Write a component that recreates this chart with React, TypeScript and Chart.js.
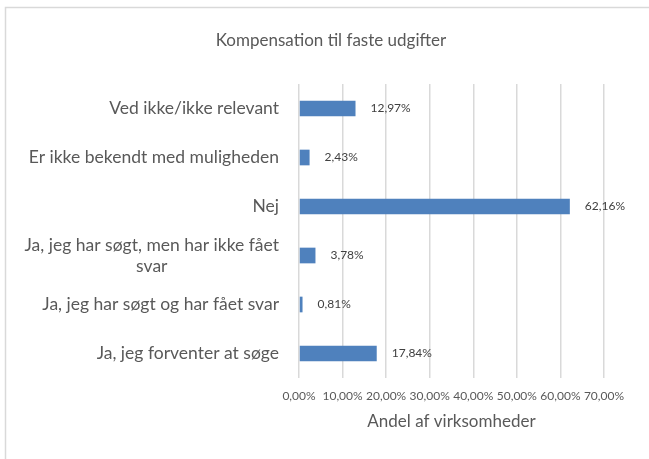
import React, { useEffect, useRef } from "react";
import { Chart, registerables } from "chart.js";

Chart.register(...registerables);

const categories: (string | string[])[] = [
  "Ved ikke/ikke relevant",
  "Er ikke bekendt med muligheden",
  "Nej",
  ["Ja, jeg har søgt, men har ikke fået", "svar"],
  "Ja, jeg har søgt og har fået svar",
  "Ja, jeg forventer at søge",
];
const values: number[] = [12.97, 2.43, 62.16, 3.78, 0.81, 17.84];
const xTicks: number[] = [0, 10, 20, 30, 40, 50, 60, 70];
const titleText = "Kompensation til faste udgifter";
const axisTitle = "Andel af virksomheder";

const FONT = "Lato, 'Open Sans', sans-serif";
const TEXT = "#595959";
const fmt = (v: number) => v.toFixed(2).replace(".", ",") + "%";

const framePlugin = {
  id: "frame",
  beforeDraw(chart: any) {
    const ctx = chart.ctx;
    ctx.save();
    ctx.fillStyle = "#ffffff";
    ctx.fillRect(0, 0, chart.width, chart.height);
    ctx.strokeStyle = "#d9d9d9";
    ctx.lineWidth = 1.5;
    ctx.beginPath();
    ctx.moveTo(5.5, chart.height);
    ctx.lineTo(5.5, 7.5);
    ctx.lineTo(chart.width, 7.5);
    ctx.stroke();
    ctx.restore();
  },
};

const labelsPlugin = {
  id: "catLabels",
  afterDraw(chart: any) {
    const ctx = chart.ctx;
    const scale = chart.scales.y;
    const labels = scale.getLabels();
    ctx.save();
    ctx.font = `17.5px ${FONT}`;
    ctx.fillStyle = TEXT;
    ctx.textBaseline = "middle";
    const right = chart.chartArea.left - 20;
    const lh = 21;
    labels.forEach((lab: any, i: number) => {
      const y = scale.getPixelForTick(i);
      const lines: string[] = Array.isArray(lab) ? lab : [lab];
      const widths = lines.map((l) => ctx.measureText(l).width);
      const w = Math.max(...widths);
      const cx = right - w / 2;
      const y0 = y - ((lines.length - 1) * lh) / 2;
      ctx.textAlign = "center";
      lines.forEach((l, k) => ctx.fillText(l, cx, y0 + k * lh));
    });
    // data labels
    const meta = chart.getDatasetMeta(0);
    ctx.font = `12px ${FONT}`;
    ctx.fillStyle = "#404040";
    ctx.textAlign = "left";
    meta.data.forEach((bar: any, i: number) => {
      ctx.fillText(fmt(values[i]), bar.x + 15, bar.y);
    });
    ctx.restore();
  },
};

export default function App() {
  const ref = useRef<HTMLCanvasElement>(null);
  useEffect(() => {
    document.body.style.margin = "0";
    const chart = new Chart(ref.current as HTMLCanvasElement, {
      type: "bar",
      data: {
        labels: categories as any,
        datasets: [
          {
            data: values,
            backgroundColor: "#4f81bd",
            borderWidth: 0,
            categoryPercentage: 1,
            barPercentage: 0.32,
          },
        ],
      },
      options: {
        animation: false,
        responsive: false,
        indexAxis: "y",
        layout: { padding: { left: 13, right: 0, top: 0, bottom: 0 } },
        plugins: {
          legend: { display: false },
          tooltip: { enabled: false },
          title: {
            display: true,
            text: titleText,
            color: TEXT,
            font: { family: FONT, size: 17, weight: "normal", lineHeight: 1.2 },
            padding: { top: 30, bottom: 33.6 },
          },
        },
        scales: {
          x: {
            type: "linear",
            min: 0,
            max: 70,
            afterBuildTicks(scale: any) {
              scale.ticks = xTicks.map((v) => ({ value: v }));
            },
            afterFit(scale: any) {
              scale.height = 81;
            },
            grid: { color: "#d9d9d9", lineWidth: 1.5, drawTicks: false },
            border: { display: false },
            ticks: {
              padding: 11,
              color: TEXT,
              maxRotation: 0,
              minRotation: 0,
              autoSkip: false,
              font: { family: FONT, size: 12 },
              callback: (v: any) => fmt(Number(v)),
            },
            title: {
              display: true,
              text: axisTitle,
              color: TEXT,
              font: { family: FONT, size: 17, lineHeight: 1.2 },
              padding: { top: 0, bottom: 27 },
            },
          },
          y: {
            type: "category",
            grid: { display: false },
            border: { display: false },
            ticks: { display: false },
            afterFit(scale: any) {
              scale.width = 286;
            },
          },
          y2: {
            type: "category",
            position: "right",
            grid: { display: false },
            border: { display: false },
            ticks: { display: false },
            afterFit(scale: any) {
              scale.width = 45;
            },
          },
        },
      },
      plugins: [framePlugin, labelsPlugin],
    });
    return () => chart.destroy();
  }, []);
  return (
    <div style={{ position: "absolute", left: 0, top: 0, width: 649, height: 459 }}>
      <canvas ref={ref} width={649} height={459} style={{ width: 649, height: 459 }} />
    </div>
  );
}
